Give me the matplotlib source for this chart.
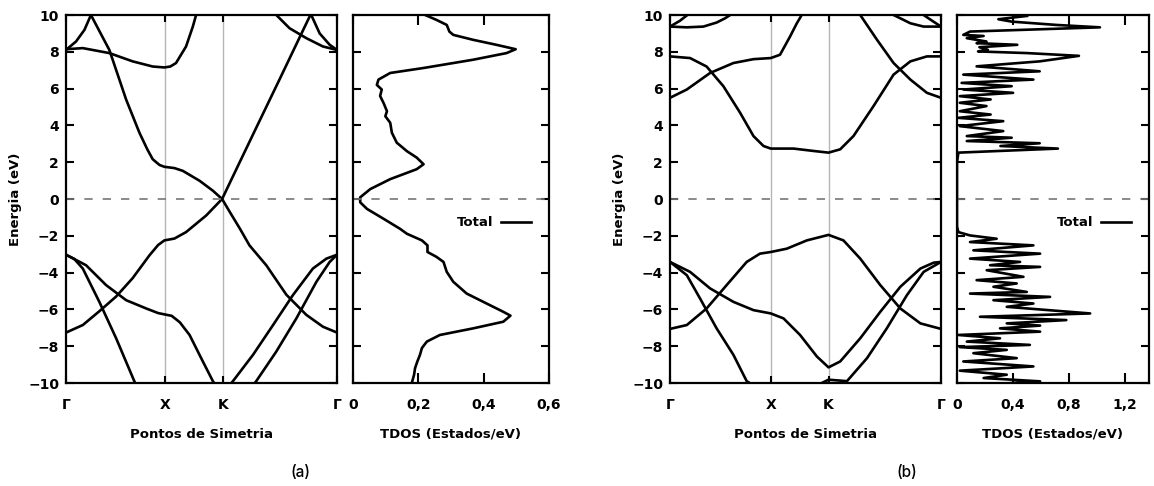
import matplotlib
matplotlib.use("Agg")
import matplotlib.pyplot as plt

plt.rcParams["font.family"] = ["DejaVu Sans"]
plt.rcParams["font.weight"] = "bold"

# ---------------- data (a) ----------------
kpts_a = [0.0, 0.365, 0.579, 1.0]
bands_a = [
    # (k, E)
    ([0.062, 0.092, 0.160, 0.222, 0.271, 0.300, 0.320, 0.345, 0.363, 0.400, 0.431, 0.493, 0.542, 0.576, 0.605, 0.642, 0.677, 0.739, 0.813, 0.887, 0.948, 1.0],
     [11.0, 10.0, 8.1, 5.4, 3.6, 2.7, 2.16, 1.85, 1.75, 1.68, 1.53, 0.99, 0.45, 0.0, -0.72, -1.62, -2.52, -3.6, -5.2, -6.3, -6.94, -7.26]),
    ([0.0, 0.062, 0.123, 0.185, 0.246, 0.308, 0.340, 0.363, 0.400, 0.443, 0.517, 0.576, 0.640, 0.714, 0.788, 0.862, 0.905, 0.936],
     [-7.26, -6.85, -6.1, -5.3, -4.3, -3.06, -2.5, -2.25, -2.15, -1.8, -0.9, 0.0, 1.97, 4.24, 6.5, 8.78, 10.1, 11.0]),
    ([0.0, 0.074, 0.148, 0.222, 0.296, 0.340, 0.363, 0.390, 0.420, 0.456, 0.505, 0.542, 0.576, 0.616, 0.690, 0.764, 0.837, 0.911, 0.961, 1.0],
     [-3.03, -3.6, -4.68, -5.5, -5.95, -6.2, -6.27, -6.35, -6.7, -7.39, -8.83, -9.9, -10.6, -9.9, -8.47, -6.85, -5.23, -3.78, -3.24, -3.03]),
    ([0.0, 0.030, 0.062, 0.123, 0.185, 0.252, 0.308, 0.616, 0.702, 0.776, 0.850, 0.924, 0.973, 1.0],
     [-3.03, -3.25, -3.78, -5.59, -7.57, -9.9, -11.5, -11.5, -9.9, -8.29, -6.49, -4.5, -3.42, -3.03]),
    ([0.0, 0.037, 0.068, 0.092, 0.111],
     [8.1, 8.56, 9.19, 10.0, 11.0]),
    ([0.0, 0.062, 0.160, 0.246, 0.320, 0.363, 0.385, 0.406, 0.443, 0.468, 0.480, 0.490],
     [8.14, 8.2, 7.93, 7.48, 7.2, 7.15, 7.2, 7.39, 8.29, 9.37, 10.0, 11.0]),
    ([0.751, 0.776, 0.825, 0.887, 0.948, 1.0],
     [10.6, 10.0, 9.28, 8.74, 8.29, 8.1]),
    ([0.893, 0.905, 0.936, 0.973, 1.0],
     [10.5, 10.0, 9.0, 8.38, 8.1]),
]
dos_a_E = [10.0, 9.73, 9.46, 9.1, 8.92, 8.65, 8.38, 8.14, 7.93, 7.57, 7.12, 6.85, 6.49, 6.2,
           5.95, 5.6, 5.2, 4.77, 4.5, 4.14, 3.6, 3.06, 2.6, 2.25, 1.89, 1.62, 1.08, 0.54,
           0.09, -0.18, -0.54, -1.08, -1.62, -1.89, -2.25, -2.52, -2.88, -3.15, -3.42,
           -3.96, -4.5, -5.14, -5.68, -6.13, -6.34, -6.67, -7.03, -7.39, -7.75, -8.1,
           -8.47, -8.83, -9.19, -9.55, -10.0]
dos_a = [0.221, 0.256, 0.287, 0.295, 0.307, 0.368, 0.439, 0.498, 0.470, 0.368, 0.216, 0.114,
         0.078, 0.073, 0.088, 0.083, 0.094, 0.104, 0.099, 0.114, 0.119, 0.134, 0.165, 0.195,
         0.216, 0.195, 0.114, 0.053, 0.022, 0.022, 0.043, 0.094, 0.144, 0.165, 0.211, 0.228,
         0.228, 0.256, 0.277, 0.287, 0.307, 0.348, 0.409, 0.460, 0.482, 0.460, 0.368, 0.266,
         0.226, 0.211, 0.205, 0.197, 0.190, 0.187, 0.180]

# ---------------- data (b) ----------------
kpts_b = [0.0, 0.372, 0.585, 1.0]
bands_b = [
    ([0.0, 0.037, 0.064, 0.080], [9.37, 9.69, 10.0, 10.6]),
    ([0.0, 0.062, 0.123, 0.172, 0.203, 0.222, 0.234], [9.37, 9.33, 9.37, 9.59, 9.82, 10.0, 10.5]),
    ([0.917, 0.936, 0.967, 1.0], [10.6, 10.0, 9.69, 9.37]),
    ([0.813, 0.825, 0.850, 0.887, 0.936, 1.0], [10.5, 10.0, 9.82, 9.55, 9.37, 9.37]),
    ([0.0, 0.062, 0.148, 0.234, 0.308, 0.372, 0.406, 0.443, 0.468, 0.486, 0.499],
     [5.5, 5.95, 6.85, 7.39, 7.6, 7.66, 7.84, 8.83, 9.55, 10.0, 10.8]),
    ([0.0, 0.074, 0.135, 0.197, 0.259, 0.308, 0.345, 0.372, 0.456, 0.530, 0.585, 0.628, 0.677, 0.751, 0.825, 0.887, 0.948, 1.0],
     [7.75, 7.66, 7.2, 6.13, 4.68, 3.42, 2.88, 2.74, 2.74, 2.61, 2.52, 2.7, 3.42, 5.05, 6.76, 7.48, 7.75, 7.75]),
    ([0.690, 0.702, 0.764, 0.825, 0.887, 0.948, 1.0],
     [10.6, 10.0, 8.65, 7.39, 6.49, 5.77, 5.5]),
    ([0.0, 0.062, 0.135, 0.209, 0.283, 0.332, 0.372, 0.431, 0.505, 0.585, 0.640, 0.702, 0.776, 0.850, 0.924, 1.0],
     [-7.06, -6.85, -5.95, -4.68, -3.42, -2.97, -2.88, -2.7, -2.25, -1.95, -2.25, -3.24, -4.68, -5.95, -6.76, -7.06]),
    ([0.0, 0.074, 0.148, 0.234, 0.308, 0.372, 0.419, 0.480, 0.542, 0.585, 0.628, 0.702, 0.776, 0.850, 0.924, 0.973, 1.0],
     [-3.42, -3.96, -4.86, -5.59, -6.04, -6.22, -6.49, -7.39, -8.56, -9.15, -8.83, -7.57, -6.13, -4.77, -3.78, -3.46, -3.42]),
    ([0.0, 0.062, 0.111, 0.172, 0.234, 0.283, 0.382, 0.505, 0.585, 0.653, 0.727, 0.800, 0.874, 0.936, 1.0],
     [-3.42, -4.14, -5.41, -7.03, -8.47, -9.9, -10.8, -10.4, -9.82, -9.9, -8.65, -7.03, -5.23, -3.96, -3.42]),
]
dos_b_E = [9.95, 9.77, 9.64, 9.46, 9.33, 9.10, 8.92, 8.86, 8.74, 8.56, 8.47, 8.38, 8.25, 8.11,
           8.02, 7.93, 7.78, 7.48, 7.21, 6.94, 6.76, 6.49, 6.31, 6.13, 5.95, 5.77, 5.59, 5.41,
           5.23, 5.05, 4.77, 4.59, 4.41, 4.23, 3.96, 3.69, 3.42, 3.33, 3.15, 3.03, 2.88, 2.74,
           2.52, 2.0, -1.5, -1.80, -1.98, -2.16, -2.34, -2.52, -2.79, -2.97, -3.24, -3.42,
           -3.60, -3.69, -3.87, -4.23, -4.41, -4.59, -4.77, -5.05, -5.14, -5.32, -5.50, -5.68,
           -5.86, -6.22, -6.40, -6.58, -6.76, -6.88, -7.03, -7.21, -7.39, -7.57, -7.75, -7.93,
           -8.05, -8.20, -8.38, -8.65, -8.83, -9.10, -9.33, -9.55, -9.73, -9.91, -10.02]
dos_b = [0.50, 0.295, 0.39, 0.71, 1.02, 0.093, 0.045, 0.19, 0.07, 0.21, 0.14, 0.43, 0.16, 0.22,
         0.15, 0.50, 0.87, 0.59, 0.14, 0.59, 0.045, 0.545, 0.033, 0.39, 0.045, 0.40, 0.02, 0.24,
         0.02, 0.21, 0.02, 0.24, 0.01, 0.33, 0.02, 0.33, 0.07, 0.39, 0.07, 0.59, 0.31, 0.72,
         0.01, 0.0, 0.0, 0.01, 0.093, 0.283, 0.093, 0.545, 0.117, 0.593, 0.093, 0.45,
         0.236, 0.593, 0.212, 0.474, 0.14, 0.426, 0.26, 0.498, 0.093, 0.664, 0.26, 0.545,
         0.355, 0.95, 0.164, 0.78, 0.355, 0.593, 0.307, 0.593, 0.01, 0.307, 0.07, 0.52,
         0.02, 0.355, 0.117, 0.426, 0.045, 0.545, 0.02, 0.355, 0.19, 0.593, 0.355]

kp_labels = ["Γ", "X", "K", "Γ"]
e_ticks = [-10, -8, -6, -4, -2, 0, 2, 4, 6, 8, 10]
dos_ticks_a = [0, 0.2, 0.4, 0.6]
dos_labels_a = ["0", "0,2", "0,4", "0,6"]
dos_ticks_b = [0, 0.4, 0.8, 1.2]
dos_labels_b = ["0", "0,4", "0,8", "1,2"]

W, H = 1154, 486
fig = plt.figure(figsize=(W / 100, H / 100), dpi=100)

def fa(x0, x1, y0, y1):
    return [x0 / W, 1 - y1 / H, (x1 - x0) / W, (y1 - y0) / H]

def style(ax):
    for s in ax.spines.values():
        s.set_linewidth(1.6)
    ax.tick_params(direction="in", top=True, right=True, length=6, width=1.5,
                   labelsize=10)
    for lab in ax.get_xticklabels() + ax.get_yticklabels():
        lab.set_fontweight("bold")

def band_panel(rect, bands, kpts):
    ax = fig.add_axes(rect)
    for k, e in bands:
        ax.plot(k, e, color="black", lw=1.9, solid_capstyle="round", solid_joinstyle="round")
    for x in kpts[1:-1]:
        ax.axvline(x, color="#b5b5b5", lw=1.0, zorder=0)
    ax.axhline(0, color="#777777", lw=1.2, ls=(0, (5, 6)))
    ax.set_xlim(0, 1)
    ax.set_ylim(-10, 10)
    ax.set_yticks(e_ticks)
    ax.set_xticks(kpts)
    ax.set_xticklabels(kp_labels)
    style(ax)
    ax.tick_params(axis="x", length=5, pad=11)
    ax.tick_params(axis="y", pad=5)
    ax.set_ylabel("Energia (eV)", fontsize=9.5, fontweight="bold", labelpad=4)
    ax.set_xlabel("Pontos de Simetria", fontsize=9.5, fontweight="bold", labelpad=11)
    return ax

def dos_panel(rect, dos, E, xmax, ticks, labels):
    ax = fig.add_axes(rect)
    ax.plot(dos, E, color="black", lw=1.9, label="Total", solid_joinstyle="round")
    ax.axhline(0, color="#777777", lw=1.2, ls=(0, (5, 6)))
    ax.set_xlim(0, xmax)
    ax.set_ylim(-10, 10)
    ax.set_yticks(e_ticks)
    ax.set_yticklabels([])
    ax.set_xticks(ticks)
    ax.set_xticklabels(labels)
    style(ax)
    ax.tick_params(axis="x", length=7, pad=11)
    ax.set_xlabel("TDOS (Estados/eV)", fontsize=9.5, fontweight="bold", labelpad=11)
    ax.legend(loc="center right", bbox_to_anchor=(0.97, 0.435), frameon=False,
              markerfirst=False, handlelength=2.3, handletextpad=0.6,
              prop={"weight": "bold", "size": 9.5})
    return ax

band_panel(fa(66, 337, 15, 383), bands_a, kpts_a)
dos_panel(fa(353, 549, 15, 383), dos_a, dos_a_E, 0.6, dos_ticks_a, dos_labels_a)
band_panel(fa(670, 941, 15, 383), bands_b, kpts_b)
dos_panel(fa(957, 1149, 15, 383), dos_b, dos_b_E, 1.37, dos_ticks_b, dos_labels_b)

fig.text(301 / W, 1 - 472 / H, "(a)", ha="center", va="center", fontsize=11,
         fontweight="medium", family="Inter")
fig.text(907 / W, 1 - 472 / H, "(b)", ha="center", va="center", fontsize=11,
         fontweight="medium", family="Inter")

fig.savefig("out.png", dpi=100)
